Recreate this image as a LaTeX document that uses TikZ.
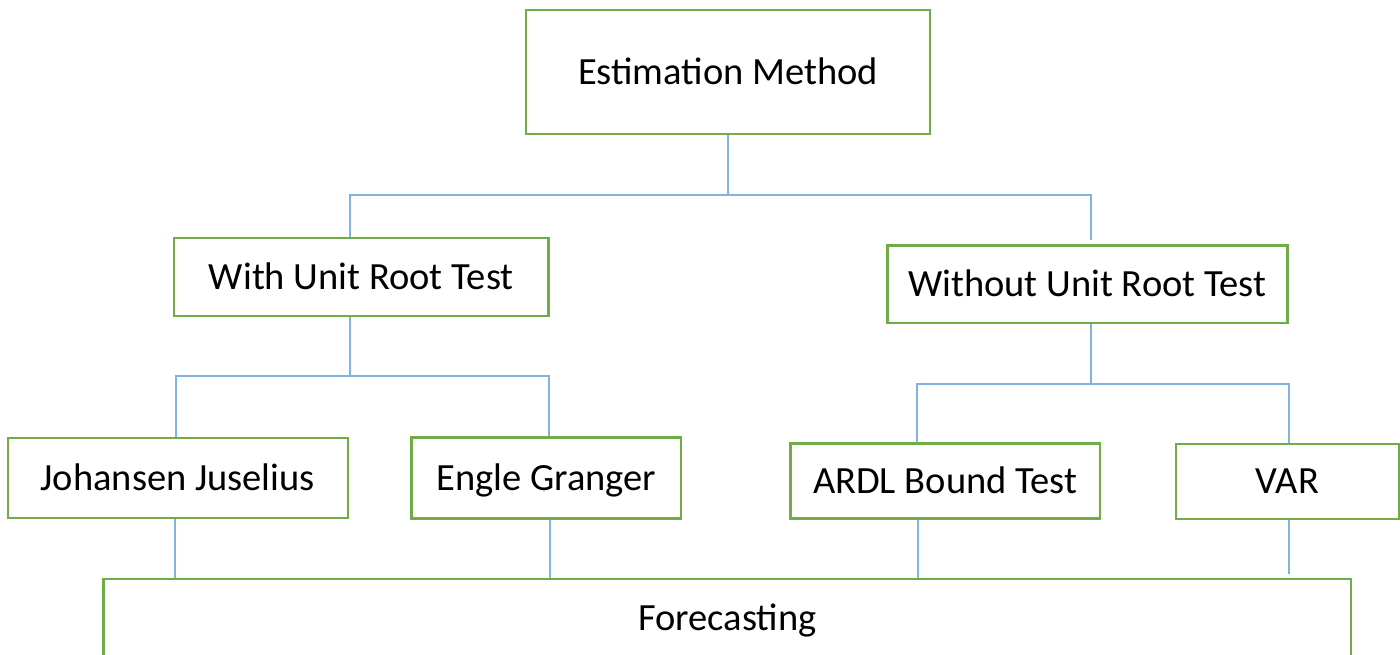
\documentclass[tikz,border=0pt]{standalone}
\usepackage{fontspec}
\setmainfont{Carlito}
\definecolor{boxgreen}{RGB}{112,173,71}
\definecolor{connblue}{RGB}{130,178,224}
\begin{document}
\begin{tikzpicture}[x=1pt,y=-1pt,
  box/.style={draw=boxgreen, line width=2.5pt, inner sep=0pt,
    text height=24.8pt, text depth=0pt,
    font=\fontsize{38.5}{46}\selectfont},
  conn/.style={draw=connblue, line width=1.2pt}]
\useasboundingbox (0,0) rectangle (1400,654);
\clip (0,0) rectangle (1400,654);
% boxes
\node[box, minimum width=404pt, minimum height=124pt] (est) at (728,72) {Estimation Method};
\node[box, minimum width=374.6pt, minimum height=78pt] (with) at (361.3,277) {With Unit Root Test};
\node[box, minimum width=400pt, minimum height=77.5pt] (without) at (1087.3,284.3) {Without Unit Root Test};
\node[box, minimum width=340pt, minimum height=80pt] (jj) at (177.8,478) {Johansen Juselius};
\node[box, minimum width=269.4pt, minimum height=81pt] (eg) at (546.3,478.2) {Engle Granger};
\node[box, minimum width=309.4pt, minimum height=75pt] (ardl) at (945.3,481.2) {ARDL Bound Test};
\node[box, minimum width=223pt, minimum height=75pt] (var) at (1287.5,481.5) {VAR};
\node[box, minimum width=1247.4pt, minimum height=78pt] (fc) at (727.3,618) {Forecasting};
% junction coordinates
\coordinate (t0) at (728,195);
\coordinate (tl) at (350,195);
\coordinate (tr) at (1091,195);
\coordinate (tre) at (1091,240);
\coordinate (lm) at (350,376);
\coordinate (ll) at (176,376);
\coordinate (lr) at (549,376);
\coordinate (rm) at (1091,384);
\coordinate (rl) at (917,384);
\coordinate (rr) at (1289,384);
\coordinate (jjx) at (175,0);
\coordinate (egx) at (550,0);
\coordinate (ardlx) at (918,0);
\coordinate (varx) at (1289,0);
\coordinate (vare) at (1289,574);
% connectors
\draw[conn] (est.south) -- (t0);
\draw[conn] (with.north -| tl) -- (tl) -- (tr) -- (tre);
\draw[conn] (with.south -| lm) -- (lm);
\draw[conn] (jj.north -| ll) -- (ll) -- (lr) -- (eg.north -| lr);
\draw[conn] (without.south -| rm) -- (rm);
\draw[conn] (ardl.north -| rl) -- (rl) -- (rr) -- (var.north -| rr);
\draw[conn] (jj.south -| jjx) -- (fc.north -| jjx);
\draw[conn] (eg.south -| egx) -- (fc.north -| egx);
\draw[conn] (ardl.south -| ardlx) -- (fc.north -| ardlx);
\draw[conn] (var.south -| varx) -- (vare);
\end{tikzpicture}
\end{document}
